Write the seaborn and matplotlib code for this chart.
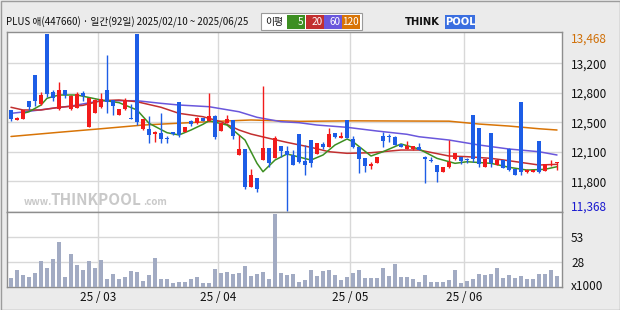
import numpy as np
import pandas as pd
import matplotlib
matplotlib.use("Agg")
import matplotlib.pyplot as plt
from matplotlib.patches import Rectangle
import seaborn as sns

# ---------------- data ----------------
title = "PLUS 애(447660) · 일간(92일) 2025/02/10 ~ 2025/06/25"
holidays = ["2025-03-03", "2025-05-01", "2025-05-05", "2025-05-06", "2025-06-03", "2025-06-06"]
dates = [d for d in pd.bdate_range("2025-02-10", "2025-06-25") if d.strftime("%Y-%m-%d") not in holidays]

opens = [12565, 12446, 12461, 12672, 12981, 12636, 13468, 12779, 12577, 12798,
         12577, 12592, 12770, 12366, 12533, 12597, 12802, 12680, 12509, 12577,
         12470, 13468, 12335, 12342, 12283, 12291, 12225, 12300, 12660, 12307,
         12434, 12407, 12466, 12437, 12493, 12319, 12414, 12446, 12030, 12101,
         11653, 11756, 11970, 12113, 11994, 12137, 12081, 12033, 12279, 11962,
         12208, 12045, 12161, 12129, 12291, 12232, 12446, 12220, 12125, 11994,
         11903, 11938, 12256, 12256, 12244, 12161, 12101, 12101, 12125, 12010,
         11962, 11911, 11831, 11884, 11979, 12002, 11972, 12505, 12351, 11891,
         12291, 11915, 11970, 12105, 11863, 12660, 11824, 11831, 12196, 11843,
         11911, 11940]
highs = [12570, 12480, 12570, 12675, 12985, 12779, 13468, 12802, 12901, 12805,
         12740, 12782, 12790, 12712, 12692, 12763, 13218, 12685, 12580, 12704,
         12636, 13468, 12460, 12493, 12310, 12533, 12256, 12305, 12665, 12365,
         12440, 12478, 12470, 12770, 12500, 12412, 12505, 12450, 12268, 12105,
         11867, 11760, 12850, 12118, 12256, 12140, 12137, 12089, 12285, 12149,
         12212, 12178, 12184, 12351, 12296, 12303, 12450, 12256, 12130, 12000,
         11947, 12010, 12307, 12279, 12250, 12165, 12196, 12140, 12168, 12015,
         12010, 11915, 11890, 12208, 12055, 12006, 11998, 12510, 12355, 11984,
         12296, 11975, 11975, 12110, 11866, 12665, 11860, 11856, 12200, 11924,
         11970, 11948]
lows = [12434, 12440, 12455, 12565, 12612, 12630, 12723, 12675, 12570, 12704,
        12570, 12588, 12675, 12360, 12528, 12592, 12533, 12509, 12505, 12570,
        12455, 12386, 12330, 12176, 12188, 12176, 12176, 12270, 12247, 12300,
        12380, 12400, 12432, 12432, 12224, 12312, 12410, 12224, 12025, 11629,
        11648, 11594, 11965, 11891, 11990, 12010, 11368, 11910, 11931, 11792,
        11884, 12040, 12098, 12125, 12235, 12228, 12228, 12115, 11819, 11831,
        11867, 11933, 12129, 12188, 12148, 12125, 12097, 12095, 12085, 11701,
        11950, 11712, 11826, 11880, 11975, 11923, 11938, 11947, 11891, 11886,
        11884, 11910, 11875, 11845, 11787, 11796, 11815, 11826, 11812, 11838,
        11905, 11851]
closes = [12458, 12473, 12565, 12597, 12675, 12743, 12755, 12704, 12802, 12743,
          12735, 12751, 12735, 12707, 12687, 12695, 12663, 12616, 12577, 12684,
          12462, 12418, 12454, 12268, 12303, 12224, 12215, 12276, 12264, 12359,
          12398, 12473, 12437, 12493, 12247, 12407, 12454, 12259, 12101, 11653,
          11792, 11629, 12113, 11931, 12232, 12074, 12033, 11915, 11947, 11915,
          11931, 12172, 12129, 12279, 12240, 12256, 12232, 12121, 11986, 11903,
          11923, 12006, 12200, 12240, 12152, 12129, 12140, 12133, 12089, 11979,
          11955, 11831, 11884, 11943, 12050, 11962, 11966, 11979, 11926, 11979,
          11931, 11970, 11879, 11851, 11792, 11828, 11855, 11851, 11831, 11919,
          11928, 11945]
volumes = [9.7, 18, 12.6, 10.8, 14.8, 27.7, 20.5, 30, 48.6, 10.8,
           35.3, 23.4, 18, 27.7, 20.5, 28.8, 8.3, 13.7, 8.6, 10.8,
           17, 16.2, 6.1, 12.6, 31.3, 8.3, 8.3, 4, 5, 5,
           8.3, 10.8, 4, 4, 19.4, 15.1, 16.2, 14.4, 15.1, 22.4,
           11.9, 13.7, 16.2, 8.6, 78.5, 14.8, 12.9, 13.7, 5.4, 7.2,
           18, 11.9, 17, 18, 12.6, 7.2, 10.8, 14.8, 18, 9.7,
           9.7, 9.7, 20.5, 11.9, 24.5, 10.8, 10.8, 9, 5, 12.6,
           5.4, 5.4, 5.4, 7.2, 18, 4, 6.1, 8.6, 13.7, 12.9,
           13.7, 20.5, 10.1, 12.6, 9.7, 11.5, 8.3, 8.6, 14, 13.7,
           18, 11.5]

ma5_idx = [2, 3, 5, 6, 8, 11, 15, 18, 21, 23, 26, 28, 30, 32, 33, 36, 39, 41, 42, 44,
           46, 50, 52, 54, 56, 57, 60, 62, 65, 68, 71, 74, 76, 80, 83, 86, 89, 91]
ma5_val = [12525, 12544, 12624, 12704, 12743, 12743, 12684, 12652, 12565, 12407, 12295,
           12268, 12327, 12395, 12437, 12386, 12208, 11931, 11831, 11970, 12042, 11970,
           12030, 12149, 12220, 12188, 12018, 12069, 12161, 12101, 11990, 11931, 11950,
           11931, 11884, 11851, 11860, 11891]
ma20_idx = [0, 2, 5, 8, 12, 15, 18, 21, 25, 28, 32, 35, 38, 40, 43, 46, 50, 53, 56, 60,
            65, 68, 73, 76, 80, 83, 88, 91]
ma20_val = [12597, 12565, 12565, 12597, 12620, 12675, 12684, 12663, 12597, 12525, 12485,
            12426, 12327, 12279, 12228, 12180, 12121, 12069, 12050, 12057, 12089, 12089,
            12018, 12010, 11990, 11962, 11911, 11919]
ma60_idx = [0, 3, 6, 10, 15, 21, 25, 28, 33, 35, 38, 41, 45, 48, 51, 56, 61, 66, 68, 73,
            78, 83, 88, 91]
ma60_val = [12525, 12549, 12577, 12612, 12675, 12675, 12644, 12624, 12604, 12580, 12544,
            12478, 12426, 12414, 12386, 12359, 12315, 12276, 12247, 12208, 12149, 12101,
            12069, 12030]
ma120_idx = [0, 8, 15, 22, 33, 40, 48, 57, 73, 78, 83, 88, 91]
ma120_val = [12250, 12300, 12342, 12386, 12426, 12446, 12430, 12436, 12432, 12398, 12374,
             12342, 12327]

price_max, price_min = 13468, 11368
price_tick_labels = ["13,200", "12,800", "12,500", "12,100", "11,800"]
vol_tick_labels = ["28", "53"]
ma_labels = ["5", "20", "60", "120"]

# ---------------- style ----------------
W, H = 620, 310
UP, DOWN = "#f21b1b", "#1d5de6"
MA_COLORS = ["#3d8f22", "#c22f2f", "#6a57dc", "#d87406"]
GRID = "#d8d8d8"
SPINE = "#8e8e8e"

sns.set_theme(style="white")
plt.rcParams["font.family"] = ["Noto Sans CJK KR", "DejaVu Sans"]

fig = plt.figure(figsize=(W / 100, H / 100), dpi=100, facecolor="#ebebeb")

def fbox(x0, y0, x1, y1):
    return [x0 / W, 1 - y1 / H, (x1 - x0) / W, (y1 - y0) / H]

ax = fig.add_axes(fbox(7, 31.5, 562, 212))
axv = fig.add_axes(fbox(7, 212, 562, 287))

n = len(closes)
x = np.arange(n)
df = pd.DataFrame({"date": dates, "x": x, "open": opens, "high": highs,
                   "low": lows, "close": closes, "volume": volumes})
df["up"] = df["close"] >= df["open"]
colors = np.where(df["up"], UP, DOWN)

# month boundaries
month = df["date"].dt.month
starts = df.index[month != month.shift()].tolist()[1:]
month_pos = [s - 0.5 for s in starts]
month_lab = [df["date"][s].strftime("%y/%m").replace("/", " / ") for s in starts]

# ---------------- price panel ----------------
ax.set_facecolor("white")
ypp = (price_max - price_min) / 176.7
ax.set_ylim(price_min - 1.3 * ypp, price_max + 2.5 * ypp)
ax.set_xlim(-0.667, n - 1 + 0.833)

grid_vals = np.linspace(price_max, price_min, 7)[1:-1]
ax.set_yticks(grid_vals, price_tick_labels)
ax.set_xticks(month_pos)
ax.set_xticklabels([])
ax.grid(True, color=GRID, lw=1)
ax.set_axisbelow(True)

ma_sets = [(ma120_idx, ma120_val, MA_COLORS[3]), (ma60_idx, ma60_val, MA_COLORS[2]),
           (ma20_idx, ma20_val, MA_COLORS[1]), (ma5_idx, ma5_val, MA_COLORS[0])]
for idx, val, col in ma_sets:
    sns.lineplot(x=idx, y=val, ax=ax, color=col, lw=1.1, zorder=2)

ax.vlines(df["x"], df["low"], df["high"], colors=colors, lw=1, zorder=3)
body_lo = np.minimum(df["open"], df["close"])
body_h = np.maximum(np.abs(df["close"] - df["open"]), ypp)
ax.bar(df["x"], body_h, bottom=body_lo, width=0.74, color=colors, lw=0, zorder=4)

ax.yaxis.tick_right()
ax.tick_params(axis="y", length=0, pad=6.5, labelsize=8.5, labelcolor="#111111")
ax.tick_params(axis="x", length=0)
for s in ax.spines.values():
    s.set_color(SPINE)
    s.set_linewidth(1)

fig.text(571 / W, 1 - 39 / H, f"{price_max:,}", va="center", ha="left",
         fontsize=8.5, color="#d07008")
fig.text(571 / W, 1 - 207 / H, f"{price_min:,}", va="center", ha="left",
         fontsize=8.5, color="#1a1ad0")

# watermark
ax.text(0.03, 0.03, "www.", transform=ax.transAxes, fontsize=7, color="#c9c9c9",
        fontweight="bold", va="bottom", ha="left", zorder=1)
ax.text(0.078, 0.02, "THINKPOOL", transform=ax.transAxes, fontsize=11, color="#c9c9c9",
        fontweight="bold", va="bottom", ha="left", zorder=1)
ax.text(0.245, 0.03, ".com", transform=ax.transAxes, fontsize=7, color="#c9c9c9",
        fontweight="bold", va="bottom", ha="left", zorder=1)

# ---------------- volume panel ----------------
axv.set_facecolor("white")
sns.barplot(x=df["x"], y=df["volume"], native_scale=True, color="#a2abc3",
            saturation=1, width=0.68, ax=axv, zorder=3, linewidth=0)
vtop = 81
axv.set_ylim(0, vtop)
axv.set_xlim(-0.667, n - 1 + 0.833)
axv.set_yticks([vtop / 3, 2 * vtop / 3], vol_tick_labels)
axv.set_xticks(month_pos, month_lab)
axv.grid(True, color=GRID, lw=1)
axv.set_axisbelow(True)
axv.yaxis.tick_right()
axv.tick_params(axis="y", length=0, pad=6.5, labelsize=8.5, labelcolor="#111111")
axv.tick_params(axis="x", length=0, pad=3, labelsize=8.5, labelcolor="#111111")
axv.set_xlabel("")
axv.set_ylabel("")
for s in axv.spines.values():
    s.set_color(SPINE)
    s.set_linewidth(1)
fig.text(571 / W, 1 - 286 / H, "x1000", fontsize=8.5, color="#111111", va="center", ha="left")

# ---------------- header ----------------
fig.text(6 / W, 1 - 22 / H, title, fontsize=7.0, color="#111111", va="center", ha="left")

# legend box
fig.patches.append(Rectangle((261 / W, 1 - 30 / H), 101 / W, 17 / H, transform=fig.transFigure,
                             facecolor="white", edgecolor="#9a9a9a", lw=0.8))
fig.text(265 / W, 1 - 22 / H, "이평", fontsize=7.0, color="#111111", va="center", ha="left")
bx = [287, 306, 324, 342]
for b, lab, col in zip(bx, ma_labels, MA_COLORS):
    fig.patches.append(Rectangle((b / W, 1 - 29 / H), 17.5 / W, 14 / H, transform=fig.transFigure,
                                 facecolor=col, edgecolor="none"))
    fig.text((b + 16.5) / W, 1 - 22 / H, lab, fontsize=7.2, color="white", va="center", ha="right")

# logo
fig.text(405 / W, 1 - 22 / H, "THINK", fontsize=7.2, fontweight="bold", color="#111111",
         va="center", ha="left", family="DejaVu Sans")
fig.patches.append(Rectangle((445 / W, 1 - 29 / H), 30 / W, 14 / H, transform=fig.transFigure,
                             facecolor="#3b6fe0", edgecolor="none"))
fig.text(460 / W, 1 - 22 / H, "POOL", fontsize=7.2, fontweight="bold", color="white",
         va="center", ha="center", family="DejaVu Sans")

# outer frame
fig.patches.append(Rectangle((0.5 / W, 0.5 / H), (W - 1) / W, (H - 1) / H, transform=fig.transFigure,
                             fill=False, edgecolor="#9c9c9c", lw=1))

fig.savefig("out.png", dpi=100, facecolor=fig.get_facecolor())
